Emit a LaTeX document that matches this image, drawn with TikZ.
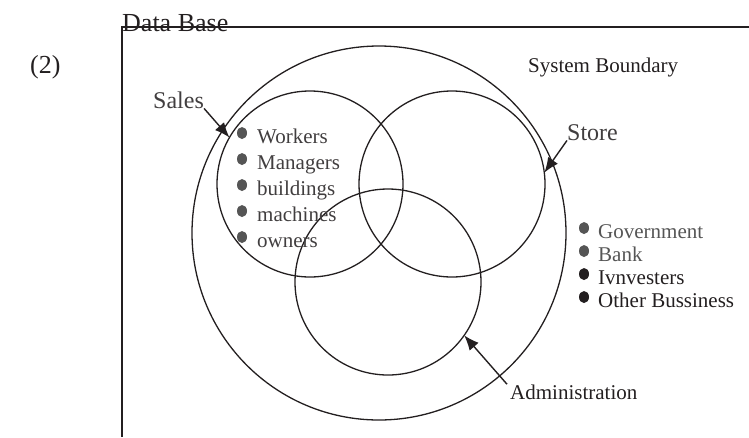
\documentclass[tikz,border=0pt]{standalone}
\usepackage{fontspec}
\setmainfont{Liberation Serif}
\usetikzlibrary{arrows.meta}
\definecolor{ink}{RGB}{35,31,32}
\definecolor{dotgray}{RGB}{85,85,85}
\definecolor{txtgray}{RGB}{65,62,63}

\begin{document}
\begin{tikzpicture}[x=1pt,y=-1pt,
  ring/.style={circle,draw=ink,line width=1.3pt,inner sep=0pt,outer sep=0pt},
  lbl/.style={anchor=base west,inner sep=0pt,text=ink},
  pointer/.style={draw=ink,line width=1.4pt,-{Latex[length=15pt,width=12pt]}}]
  \useasboundingbox (0,0) rectangle (749,437);

  % frame of the data base
  \draw[ink,line width=1.5pt] (122,437)--(122,27)--(749,27);
  \node[lbl,font=\fontsize{26}{26}\selectfont] (dbtxt) at (122,31) {Data Base};
  \node[lbl,font=\fontsize{26}{26}\selectfont] (num) at (30,73) {(2)};

  \node[ring,minimum size=374pt] (boundary) at (379,233) {};
  \node[ring,minimum size=186pt] (sales) at (310,184) {};
  \node[ring,minimum size=186pt] (store) at (452,184) {};
  \node[ring,minimum size=186pt] (admin) at (388,282) {};

  \node[lbl,font=\fontsize{21}{21}\selectfont] (boundtxt) at (528,72) {System Boundary};
  \node[lbl,font=\fontsize{24}{24}\selectfont,text=txtgray] (salestxt) at (153,108) {Sales};
  \node[lbl,font=\fontsize{24}{24}\selectfont,text=txtgray] (storetxt) at (567,140) {Store};
  \node[lbl,font=\fontsize{21}{21}\selectfont] (admtxt) at (510,399) {Administration};

  \draw[pointer] (salestxt.south east) -- (sales.150);
  \draw[pointer] (storetxt.south west) -- (store.7);
  \draw[pointer] ([xshift=-3pt]admtxt.north west) -- (admin.-35);

  % things inside and outside the boundary
  \foreach \word [count=\i from 0] in {Workers,Managers,buildings,machines,owners} {
    \fill[dotgray] (242,133+26*\i) ellipse (5 and 6);
    \node[lbl,font=\fontsize{21}{21}\selectfont,text=txtgray] (in\i) at (257,143+26*\i) {\word};
  }
  \foreach \word/\shade [count=\i from 0] in {Government/dotgray,Bank/dotgray,Ivnvesters/ink,Other Bussiness/ink} {
    \fill[\shade] (584,228+23*\i) ellipse (5 and 6);
    \node[lbl,font=\fontsize{21}{21}\selectfont,text=\shade] (out\i) at (598,238+23*\i) {\word};
  }
\end{tikzpicture}
\end{document}
